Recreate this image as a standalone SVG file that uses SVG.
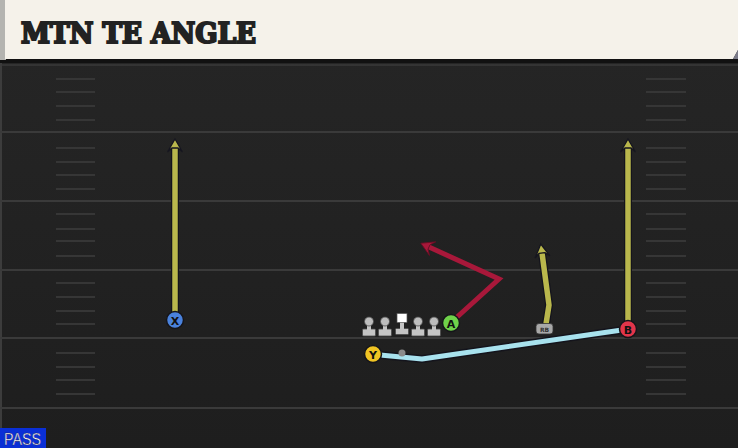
<svg xmlns="http://www.w3.org/2000/svg" width="738" height="448" viewBox="0 0 738 448">
  <defs>
    <linearGradient id="fieldGrad" x1="0" y1="0" x2="0" y2="1">
      <stop offset="0" stop-color="#262626"/>
      <stop offset="1" stop-color="#1e1e1e"/>
    </linearGradient>
    <marker id="arrY" markerUnits="userSpaceOnUse" viewBox="-2 -10 18 20" markerWidth="18" markerHeight="20" refX="4" refY="0" orient="auto">
      <path d="M13,0 L0,-7.5 L4,-3 L4,3 L0,7.5 Z" fill="#b9b74c" stroke="#15151f" stroke-width="1.3" stroke-linejoin="miter"/>
    </marker>
    <marker id="arrR" markerUnits="userSpaceOnUse" viewBox="-2 -10 18 20" markerWidth="18" markerHeight="20" refX="4" refY="0" orient="auto">
      <path d="M13,0 L0,-7.5 L4,-2.5 L4,2.5 L0,7.5 Z" fill="#a8183a" stroke="#6a0e24" stroke-width="0.8"/>
    </marker>
    <g id="pawn">
      <rect x="-6.5" y="7.5" width="13" height="7" rx="1" fill="#c4c4c4" stroke="#4a4a4a" stroke-width="0.8"/>
      <rect x="-2" y="0" width="4" height="8.5" fill="#c4c4c4"/>
      <circle cx="0" cy="0" r="4.5" fill="#bdbdbd" stroke="#4a4a4a" stroke-width="0.8"/>
    </g>
  </defs>
  <style>
    .yard { stroke: #3a3a3a; stroke-width: 2; }
    .hash { stroke: #363636; stroke-width: 2; }
    .routeUnder { fill: none; stroke: #14141c; stroke-width: 8; stroke-linejoin: round; }
    .yellow { fill: none; stroke: #b9b74c; stroke-width: 5.5; stroke-linejoin: round; }
    .red { fill: none; stroke: #a8183a; stroke-width: 5; stroke-linejoin: miter; }
    .blue { fill: none; stroke: #a8e2ee; stroke-width: 5; stroke-linejoin: round; }
    .pl { stroke: #15151a; stroke-width: 1.5; }
    .plText { font-family: "DejaVu Sans", sans-serif; font-weight: bold; font-size: 11px; fill: #111; text-anchor: middle; }
  </style>

  <!-- field -->
  <rect x="0" y="0" width="738" height="448" fill="url(#fieldGrad)"/>
  <rect x="0" y="60" width="2" height="388" fill="#3c3c3c"/>

  <g id="yardlines">
    <line class="yard" x1="0" y1="65" x2="738" y2="65" stroke-opacity="0.7"/>
    <line class="yard" x1="0" y1="132" x2="738" y2="132"/>
    <line class="yard" x1="0" y1="201" x2="738" y2="201"/>
    <line class="yard" x1="0" y1="270" x2="738" y2="270"/>
    <line class="yard" x1="0" y1="338" x2="738" y2="338"/>
    <line class="yard" x1="0" y1="408" x2="738" y2="408"/>
  </g>
  <g id="hashes">
    <path class="hash" d="M56,79H95M56,92H95M56,106H95M56,120H95M56,148H95M56,162H95M56,175H95M56,189H95M56,214H95M56,229H95M56,241H95M56,256H95M56,283H95M56,297H95M56,311H95M56,324H95M56,353H95M56,367H95M56,380H95M56,394H95"/>
    <path class="hash" d="M646,79H686M646,92H686M646,106H686M646,120H686M646,148H686M646,162H686M646,175H686M646,189H686M646,214H686M646,229H686M646,241H686M646,256H686M646,283H686M646,297H686M646,311H686M646,324H686M646,353H686M646,367H686M646,380H686M646,394H686"/>
  </g>

  <!-- header -->
  <g id="header">
    <rect x="0" y="59" width="738" height="4" fill="#111"/>
    <rect x="0" y="0" width="6" height="60" fill="#b4b4b0"/>
    <polygon points="5,0 738,0 738,50 733,59 5,59" fill="#f5f2ea"/>
    <polygon points="733,59 738,50 738,59" fill="#7a7a88"/>
    <text x="21" y="43" font-family="'DejaVu Serif', 'Noto Serif', serif" font-weight="900" font-size="28" fill="#222" stroke="#222" stroke-width="2.2" stroke-linejoin="miter" paint-order="stroke" textLength="235" lengthAdjust="spacingAndGlyphs">MTN TE ANGLE</text>
  </g>

  <!-- connectors -->
  <g id="connectors">
    <path class="routeUnder" d="M175,312 V148"/>
    <path class="yellow" d="M175,312 V148" marker-end="url(#arrY)"/>
    <path class="routeUnder" d="M628,321 V148"/>
    <path class="yellow" d="M628,321 V148" marker-end="url(#arrY)"/>
    <path class="routeUnder" d="M546,324 L549,305 L542,253"/>
    <path class="yellow" d="M546,324 L549,305 L542,253" marker-end="url(#arrY)"/>
    <path class="red" d="M456,318 L499,279 L429,247" marker-end="url(#arrR)"/>
    <path class="routeUnder" d="M380,355 L422,359 L622,330"/>
    <path class="blue" d="M380,355 L422,359 L622,330"/>
  </g>

  <!-- offensive line -->
  <g id="oline">
    <use href="#pawn" x="369" y="321.5"/>
    <use href="#pawn" x="385" y="321.5"/>
    <g id="center">
      <rect x="395.5" y="328.5" width="13" height="6" rx="1" fill="#c4c4c4" stroke="#4a4a4a" stroke-width="0.8"/>
      <rect x="400" y="320" width="4" height="9" fill="#c4c4c4"/>
      <rect x="397" y="313.5" width="10" height="9" fill="#ffffff" stroke="#555" stroke-width="0.7"/>
    </g>
    <use href="#pawn" x="418" y="321.5"/>
    <use href="#pawn" x="434" y="321.5"/>
  </g>

  <g id="ball">
    <circle cx="402" cy="353" r="3.5" fill="#8a8a8a"/>
  </g>

  <g id="player-X">
    <circle class="pl" cx="175" cy="320" r="8.5" fill="#4a82dc"/>
    <text class="plText" x="175" y="324.5">X</text>
  </g>
  <g id="player-A">
    <circle class="pl" cx="451" cy="323" r="8.5" fill="#6fd24a"/>
    <text class="plText" x="451" y="327.5">A</text>
  </g>
  <g id="player-B">
    <circle class="pl" cx="628" cy="329" r="8.5" fill="#e2354a"/>
    <text class="plText" x="628" y="333.5">B</text>
  </g>
  <g id="player-Y">
    <circle class="pl" cx="373" cy="354" r="8.5" fill="#f0c423"/>
    <text class="plText" x="373" y="358.5">Y</text>
  </g>
  <g id="player-RB">
    <rect x="536" y="323.5" width="17" height="10.5" rx="3" fill="#a8a8a8" stroke="#333" stroke-width="0.8"/>
    <text x="544.5" y="331.5" font-family="'DejaVu Sans', sans-serif" font-size="6" font-weight="bold" fill="#333" text-anchor="middle">RB</text>
  </g>

  <g id="pass-label">
    <rect x="0" y="428" width="46" height="20" fill="#0a2fd6"/>
    <text x="4" y="445" font-family="'Liberation Sans', sans-serif" font-size="16" fill="#ffffff" stroke="#1a1a60" stroke-width="0.4" textLength="37" lengthAdjust="spacingAndGlyphs">PASS</text>
  </g>
</svg>
